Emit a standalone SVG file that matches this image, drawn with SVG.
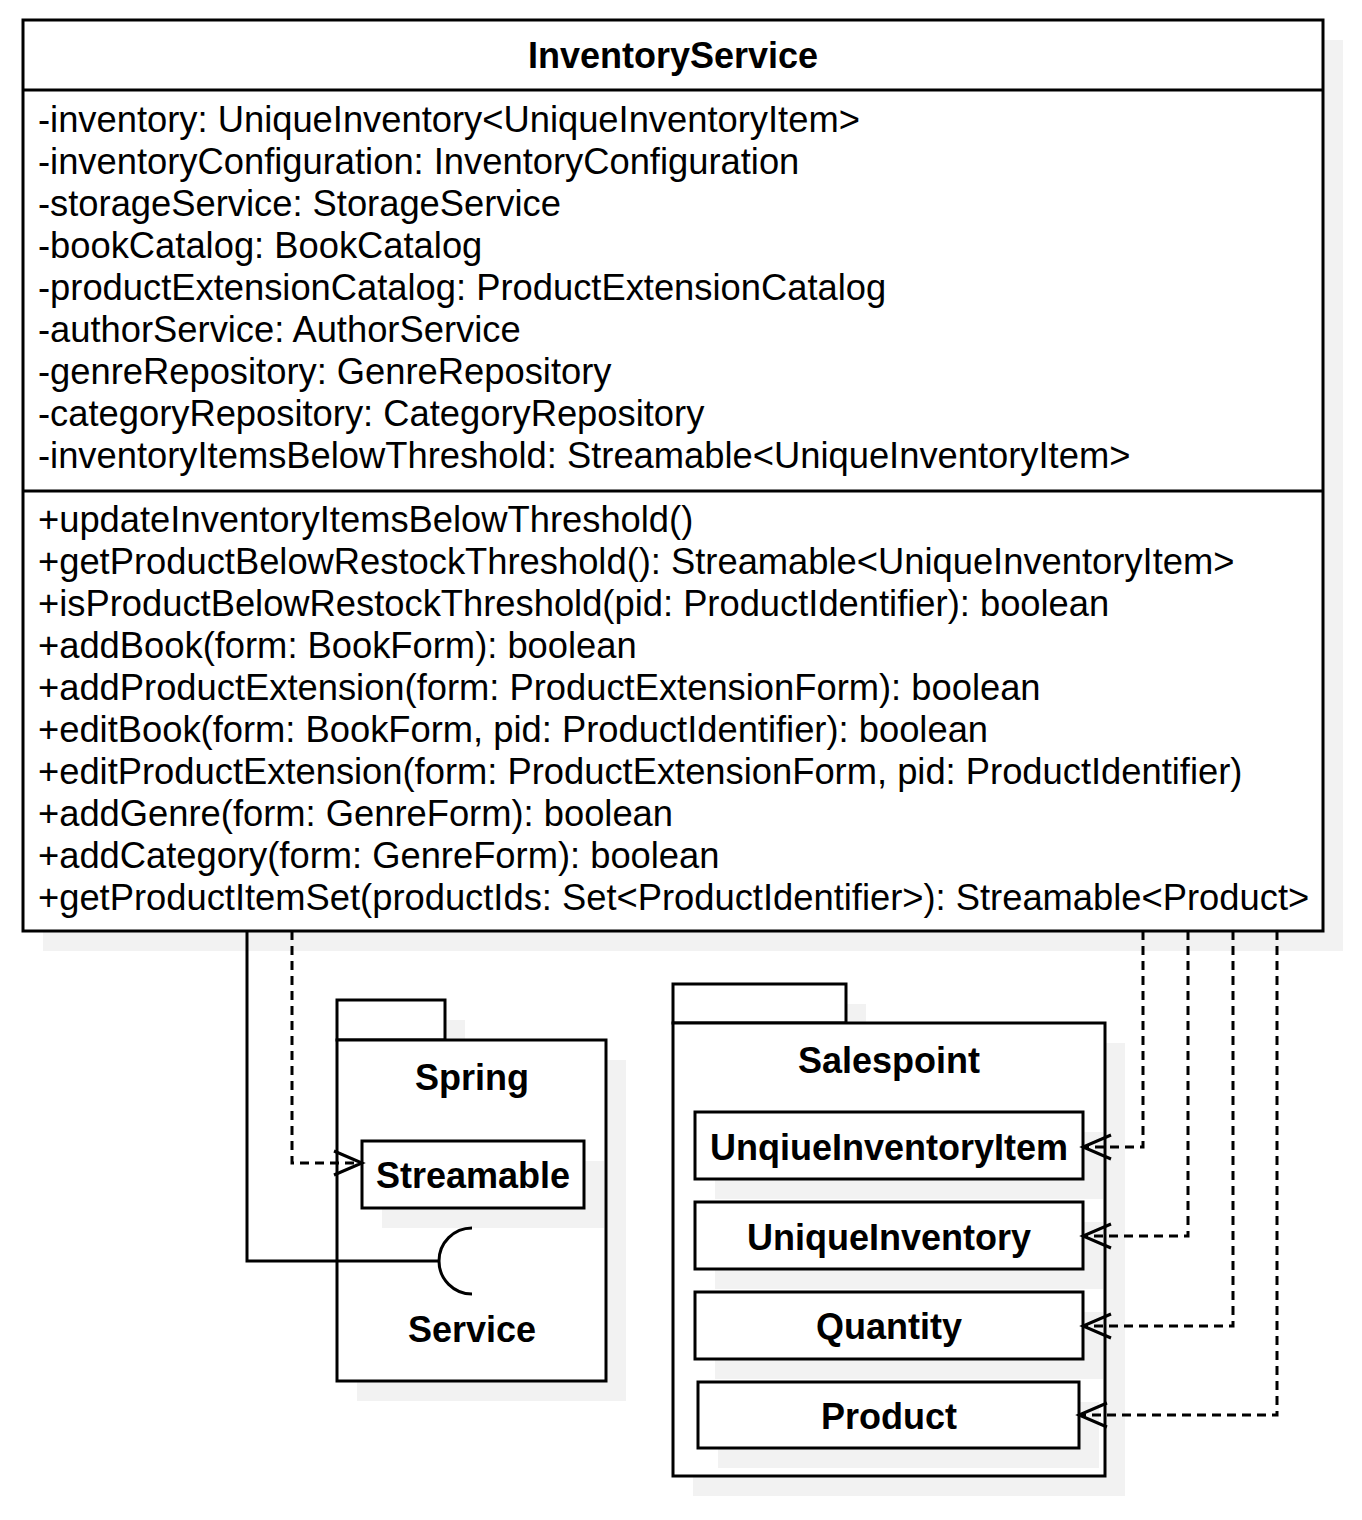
<svg xmlns="http://www.w3.org/2000/svg" width="1362" height="1520" viewBox="0 0 1362 1520">
<style>
.box{fill:#fff;stroke:#000;stroke-width:3}
.sh{fill:#f2f2f2;stroke:none}
.t{font-family:"Liberation Sans",Arial,sans-serif;font-size:36.35px;fill:#000}
.b{font-family:"Liberation Sans",Arial,sans-serif;font-size:36px;font-weight:bold;fill:#000;text-anchor:middle}
.ln{fill:none;stroke:#000;stroke-width:3}
.dash{fill:none;stroke:#000;stroke-width:3;stroke-dasharray:9 6}
</style>
<defs>
<marker id="open" markerUnits="userSpaceOnUse" markerWidth="32" markerHeight="28" refX="28" refY="13" orient="auto" overflow="visible">
<path d="M0,1 L28,13 L0,25" fill="none" stroke="#000" stroke-width="3" stroke-dasharray="none"/>
</marker>
</defs>
<rect width="1362" height="1520" fill="#fff"/>

<g id="InventoryService">
<rect class="sh" x="43" y="40" width="1300" height="911"/>
<rect class="box" x="23" y="20" width="1300" height="911"/>
<line class="ln" x1="23" y1="90" x2="1323" y2="90"/>
<line class="ln" x1="23" y1="491" x2="1323" y2="491"/>
<text class="b" x="673" y="68">InventoryService</text>
<text class="t" x="38" y="132">-inventory: UniqueInventory&lt;UniqueInventoryItem&gt;</text>
<text class="t" x="38" y="174">-inventoryConfiguration: InventoryConfiguration</text>
<text class="t" x="38" y="216">-storageService: StorageService</text>
<text class="t" x="38" y="258">-bookCatalog: BookCatalog</text>
<text class="t" x="38" y="300">-productExtensionCatalog: ProductExtensionCatalog</text>
<text class="t" x="38" y="342">-authorService: AuthorService</text>
<text class="t" x="38" y="384">-genreRepository: GenreRepository</text>
<text class="t" x="38" y="426">-categoryRepository: CategoryRepository</text>
<text class="t" x="38" y="468">-inventoryItemsBelowThreshold: Streamable&lt;UniqueInventoryItem&gt;</text>
<text class="t" x="38" y="532">+updateInventoryItemsBelowThreshold()</text>
<text class="t" x="38" y="574">+getProductBelowRestockThreshold(): Streamable&lt;UniqueInventoryItem&gt;</text>
<text class="t" x="38" y="616">+isProductBelowRestockThreshold(pid: ProductIdentifier): boolean</text>
<text class="t" x="38" y="658">+addBook(form: BookForm): boolean</text>
<text class="t" x="38" y="700">+addProductExtension(form: ProductExtensionForm): boolean</text>
<text class="t" x="38" y="742">+editBook(form: BookForm, pid: ProductIdentifier): boolean</text>
<text class="t" x="38" y="784">+editProductExtension(form: ProductExtensionForm, pid: ProductIdentifier)</text>
<text class="t" x="38" y="826">+addGenre(form: GenreForm): boolean</text>
<text class="t" x="38" y="868">+addCategory(form: GenreForm): boolean</text>
<text class="t" x="38" y="910">+getProductItemSet(productIds: Set&lt;ProductIdentifier&gt;): Streamable&lt;Product&gt;</text>
</g>

<g id="Spring">
<rect class="sh" x="357" y="1020" width="108" height="40"/>
<rect class="sh" x="357" y="1060" width="269" height="341"/>
<rect class="box" x="337" y="1000" width="108" height="40"/>
<rect class="box" x="337" y="1040" width="269" height="341"/>
<text class="b" x="472" y="1090">Spring</text>
<text class="b" x="472" y="1342">Service</text>
</g>

<g id="Streamable">
<rect class="sh" x="382" y="1161" width="222" height="67"/>
<rect class="box" x="362" y="1141" width="222" height="67"/>
<text class="b" x="473" y="1188">Streamable</text>
</g>

<g id="Salespoint">
<rect class="sh" x="693" y="1004" width="173" height="39"/>
<rect class="sh" x="693" y="1043" width="432" height="453"/>
<rect class="box" x="673" y="984" width="173" height="39"/>
<rect class="box" x="673" y="1023" width="432" height="453"/>
<text class="b" x="889" y="1073">Salespoint</text>
</g>

<g id="UnqiueInventoryItem">
<rect class="sh" x="715" y="1132" width="388" height="67"/>
<rect class="box" x="695" y="1112" width="388" height="67"/>
<text class="b" x="889" y="1160">UnqiueInventoryItem</text>
</g>

<g id="UniqueInventory">
<rect class="sh" x="715" y="1222" width="388" height="67"/>
<rect class="box" x="695" y="1202" width="388" height="67"/>
<text class="b" x="889" y="1250">UniqueInventory</text>
</g>

<g id="Quantity">
<rect class="sh" x="715" y="1312" width="388" height="67"/>
<rect class="box" x="695" y="1292" width="388" height="67"/>
<text class="b" x="889" y="1339">Quantity</text>
</g>

<g id="Product">
<rect class="sh" x="718" y="1402" width="381" height="66"/>
<rect class="box" x="698" y="1382" width="381" height="66"/>
<text class="b" x="889" y="1429">Product</text>
</g>

<g id="connectors">
<path class="ln" d="M247,931 V1261 H439"/>
<path class="ln" d="M472,1228 A33,33 0 0 0 472,1294"/>
<path class="dash" d="M292,931 V1163 H362" marker-end="url(#open)"/>
<path class="dash" d="M1143,931 V1147 H1083" marker-end="url(#open)"/>
<path class="dash" d="M1188,931 V1236 H1083" marker-end="url(#open)"/>
<path class="dash" d="M1233,931 V1326 H1083" marker-end="url(#open)"/>
<path class="dash" d="M1277,931 V1415 H1079" marker-end="url(#open)"/>
</g>
</svg>
